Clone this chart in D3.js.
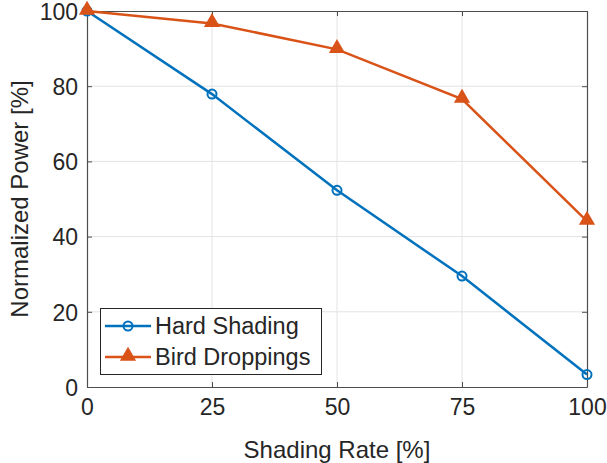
<!DOCTYPE html>
<html>
<head>
<meta charset="utf-8">
<script src="https://d3js.org/d3.v7.min.js"></script>
<style>
  body { margin: 0; background: #fff; }
  svg text { font-family: "Liberation Sans", Arial, sans-serif; fill: #262626; }
</style>
</head>
<body>
<div id="chart"></div>
<script>
// shading rates on x axis
const shadingRate = [0, 25, 50, 75, 100];
// normalized power values
const hardShading = [100, 77.9, 52.3, 29.5, 3.3];
const birdDroppings = [100, 96.7, 89.8, 76.6, 44.1];
const xTicks = [0, 25, 50, 75, 100];
const yTicks = [0, 20, 40, 60, 80, 100];

const w = 607, h = 463;
const m = {left: 87, right: 20, top: 11, bottom: 76};

const svg = d3.select('#chart').append('svg')
  .attr('width', w).attr('height', h);

const x = d3.scaleLinear().domain([0, 100]).range([m.left, w - m.right]);
const y = d3.scaleLinear().domain([0, 100]).range([h - m.bottom, m.top]);

// grid
svg.append('g').selectAll('line.gx').data(xTicks.slice(1, -1)).enter().append('line')
  .attr('x1', d => x(d)).attr('x2', d => x(d))
  .attr('y1', y(0)).attr('y2', y(100))
  .attr('stroke', '#e3e3e3').attr('stroke-width', 1);
svg.append('g').selectAll('line.gy').data(yTicks.slice(1, -1)).enter().append('line')
  .attr('y1', d => y(d)).attr('y2', d => y(d))
  .attr('x1', x(0)).attr('x2', x(100))
  .attr('stroke', '#e3e3e3').attr('stroke-width', 1);

// axes, ticks pointing inward like matlab
const axB = svg.append('g').attr('transform', 'translate(0,' + y(0) + ')')
  .call(d3.axisBottom(x).tickValues(xTicks).tickSizeInner(-5).tickSizeOuter(0).tickPadding(12));
const axT = svg.append('g').attr('transform', 'translate(0,' + y(100) + ')')
  .call(d3.axisTop(x).tickValues(xTicks).tickSizeInner(-5).tickSizeOuter(0).tickFormat(''));
const axL = svg.append('g').attr('transform', 'translate(' + x(0) + ',0)')
  .call(d3.axisLeft(y).tickValues(yTicks).tickSizeInner(-5).tickSizeOuter(0).tickPadding(9));
const axR = svg.append('g').attr('transform', 'translate(' + x(100) + ',0)')
  .call(d3.axisRight(y).tickValues(yTicks).tickSizeInner(-5).tickSizeOuter(0).tickFormat(''));

[axB, axT, axL, axR].forEach(a => {
  a.select('.domain').attr('stroke', '#4d4d4d').attr('stroke-width', 1.2);
  a.selectAll('.tick line').attr('stroke', '#4d4d4d');
  a.selectAll('.tick text').attr('font-size', 23).attr('fill', '#262626')
    .style('font-family', '"Liberation Sans", Arial, sans-serif');
});
axB.selectAll('.tick text').attr('dy', '0.71em');
axL.selectAll('.tick text').attr('dy', '0.36em');

// axis labels
svg.append('text')
  .attr('x', (x(0) + x(100)) / 2).attr('y', 458)
  .attr('text-anchor', 'middle').attr('font-size', 24)
  .text('Shading Rate [%]');
svg.append('text')
  .attr('transform', 'translate(28,' + (y(50)) + ') rotate(-90)')
  .attr('text-anchor', 'middle').attr('font-size', 24)
  .text('Normalized Power [%]');

const blue = '#0072BD', orange = '#D95319';
const line = d3.line().x((d, i) => x(shadingRate[i])).y(d => y(d));
const tri = d3.symbol().type(d3.symbolTriangle).size(80);

// series lines and markers
svg.append('path').datum(hardShading).attr('d', line)
  .attr('fill', 'none').attr('stroke', blue).attr('stroke-width', 2.5);
svg.append('path').datum(birdDroppings).attr('d', line)
  .attr('fill', 'none').attr('stroke', orange).attr('stroke-width', 2.5);

svg.append('g').selectAll('circle').data(hardShading).enter().append('circle')
  .attr('cx', (d, i) => x(shadingRate[i])).attr('cy', d => y(d)).attr('r', 4.5)
  .attr('fill', 'none').attr('stroke', blue).attr('stroke-width', 2);
svg.append('g').selectAll('path').data(birdDroppings).enter().append('path')
  .attr('d', tri)
  .attr('transform', (d, i) => 'translate(' + x(shadingRate[i]) + ',' + (y(d) - 1) + ')')
  .attr('fill', orange).attr('stroke', orange).attr('stroke-width', 1.5);

// legend
const lg = svg.append('g');
lg.append('rect').attr('x', 100.5).attr('y', 308.5).attr('width', 221).attr('height', 66)
  .attr('fill', '#fff').attr('stroke', '#262626').attr('stroke-width', 1);
const items = [{name: 'Hard Shading', c: blue, cy: 326}, {name: 'Bird Droppings', c: orange, cy: 357}];
items.forEach((it, k) => {
  lg.append('line').attr('x1', 105).attr('x2', 151).attr('y1', it.cy).attr('y2', it.cy)
    .attr('stroke', it.c).attr('stroke-width', 2.5);
  if (k === 0) {
    lg.append('circle').attr('cx', 128).attr('cy', it.cy).attr('r', 4.5)
      .attr('fill', 'none').attr('stroke', it.c).attr('stroke-width', 2);
  } else {
    lg.append('path').attr('d', tri).attr('transform', 'translate(128,' + (it.cy - 1) + ')')
      .attr('fill', it.c).attr('stroke', it.c).attr('stroke-width', 1.5);
  }
  lg.append('text').attr('x', 155).attr('y', it.cy + 8).attr('font-size', 23.5).attr('fill', '#000')
    .text(it.name);
});
</script>
</body>
</html>
